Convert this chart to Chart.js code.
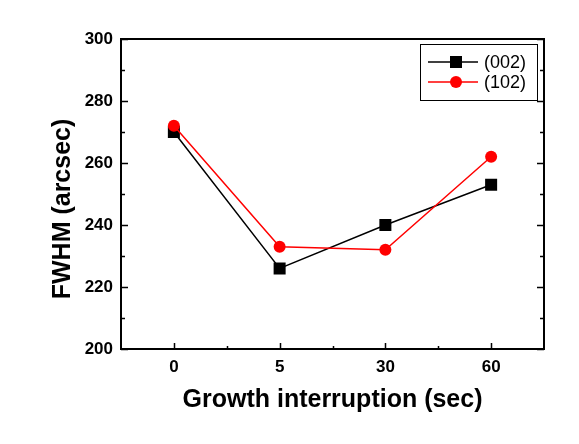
<!DOCTYPE html>
<html>
<head>
<meta charset="utf-8">
<script src="https://cdn.jsdelivr.net/npm/chart.js@4/dist/chart.umd.min.js"></script>
<style>
html,body{margin:0;padding:0;background:#fff;}
#wrap{width:579px;height:444px;}
</style>
</head>
<body>
<div id="wrap"><canvas id="c" width="579" height="444"></canvas></div>
<script>
const categories = ['0', '5', '30', '60'];
const fwhm002 = [270, 226, 240, 253];
const fwhm102 = [272, 233, 232, 262];
const yMin = 200, yMax = 300, yStep = 20;
const xTitle = 'Growth interruption (sec)';
const yTitle = 'FWHM (arcsec)';
const legendLabels = ['(002)', '(102)'];

const AREA = {left: 121, right: 544, top: 39, bottom: 349};
const FONT = '"Liberation Sans", Arial, sans-serif';

const framePlugin = {
  id: 'frame',
  afterDatasetsDraw(chart) {
    const ctx = chart.ctx;
    const a = chart.chartArea;
    const xs = chart.scales.x, ys = chart.scales.y;
    ctx.save();
    ctx.strokeStyle = '#000';
    ctx.lineWidth = 2;
    ctx.strokeRect(a.left, a.top, a.right - a.left, a.bottom - a.top);
    ctx.lineWidth = 1.5;
    ctx.beginPath();
    for (let v = yMin; v <= yMax; v += yStep / 2) {
      const y = Math.round(ys.getPixelForValue(v)) + 0.5;
      const major = ((v - yMin) % yStep) === 0;
      const len = major ? 7 : 4;
      ctx.moveTo(a.left, y); ctx.lineTo(a.left + len, y);
      ctx.moveTo(a.right, y); ctx.lineTo(a.right - len, y);
    }
    for (let i = 0; i < categories.length; i++) {
      const x = Math.round(xs.getPixelForValue(i)) + 0.5;
      ctx.moveTo(x, a.bottom); ctx.lineTo(x, a.bottom - 6);
      if (i < categories.length - 1) {
        const xm = Math.round((xs.getPixelForValue(i) + xs.getPixelForValue(i + 1)) / 2) + 0.5;
        ctx.moveTo(xm, a.bottom); ctx.lineTo(xm, a.bottom - 3);
      }
    }
    ctx.stroke();

    // axis titles
    ctx.fillStyle = '#000';
    ctx.font = 'bold 25px ' + FONT;
    ctx.textAlign = 'center';
    ctx.textBaseline = 'alphabetic';
    ctx.fillText(xTitle, (a.left + a.right) / 2, 407);

    ctx.save();
    ctx.translate(70, 209);
    ctx.rotate(-Math.PI / 2);
    ctx.fillText(yTitle, 0, 0);
    ctx.restore();

    // legend
    const lx = 420, ly = 44, lw = 117, lh = 56;
    ctx.fillStyle = '#fff';
    ctx.fillRect(lx, ly, lw, lh);
    ctx.lineWidth = 1;
    ctx.strokeStyle = '#000';
    ctx.strokeRect(lx + 0.5, ly + 0.5, lw, lh);
    const ds = chart.data.datasets;
    const rows = [62, 82];
    ds.forEach((d, i) => {
      const y = rows[i];
      ctx.strokeStyle = d.borderColor;
      ctx.lineWidth = 1.5;
      ctx.beginPath();
      ctx.moveTo(428, y); ctx.lineTo(478, y); ctx.stroke();
      ctx.fillStyle = d.pointBackgroundColor;
      if (d.pointStyle === 'rect') {
        ctx.fillRect(456 - 6, y - 6, 12, 12);
      } else {
        ctx.beginPath(); ctx.arc(456, y, 6, 0, Math.PI * 2); ctx.fill();
      }
      ctx.fillStyle = '#000';
      ctx.font = '18px ' + FONT;
      ctx.textAlign = 'left';
      ctx.textBaseline = 'middle';
      ctx.fillText(legendLabels[i], 484, y + 1);
    });
    ctx.restore();
  }
};

new Chart(document.getElementById('c'), {
  type: 'line',
  data: {
    labels: categories,
    datasets: [
      {
        label: legendLabels[0],
        data: fwhm002,
        borderColor: '#000000',
        backgroundColor: '#000000',
        pointBackgroundColor: '#000000',
        pointBorderColor: '#000000',
        pointStyle: 'rect',
        pointRadius: 8.5,
        pointBorderWidth: 0,
        borderWidth: 1.5,
        tension: 0,
        order: 2
      },
      {
        label: legendLabels[1],
        data: fwhm102,
        borderColor: '#ff0000',
        backgroundColor: '#ff0000',
        pointBackgroundColor: '#ff0000',
        pointBorderColor: '#ff0000',
        pointStyle: 'circle',
        pointRadius: 6,
        pointBorderWidth: 0,
        borderWidth: 1.5,
        tension: 0,
        order: 1
      }
    ]
  },
  options: {
    responsive: false,
    animation: false,
    devicePixelRatio: 1,
    layout: {padding: {left: 0, right: 579 - AREA.right, top: AREA.top, bottom: 0}},
    plugins: {legend: {display: false}, tooltip: {enabled: false}},
    scales: {
      x: {
        type: 'category',
        offset: true,
        grid: {display: false, drawTicks: false},
        border: {display: false},
        ticks: {
          color: '#000',
          padding: 8,
          font: {family: FONT, size: 17, weight: 'bold'}
        },
        afterFit(s) { s.height = 444 - AREA.bottom; }
      },
      y: {
        min: yMin,
        max: yMax,
        grid: {display: false, drawTicks: false},
        border: {display: false},
        ticks: {
          stepSize: yStep,
          color: '#000',
          padding: 8,
          font: {family: FONT, size: 17, weight: 'bold'}
        },
        afterFit(s) { s.width = AREA.left; }
      }
    }
  },
  plugins: [framePlugin]
});
</script>
</body>
</html>
